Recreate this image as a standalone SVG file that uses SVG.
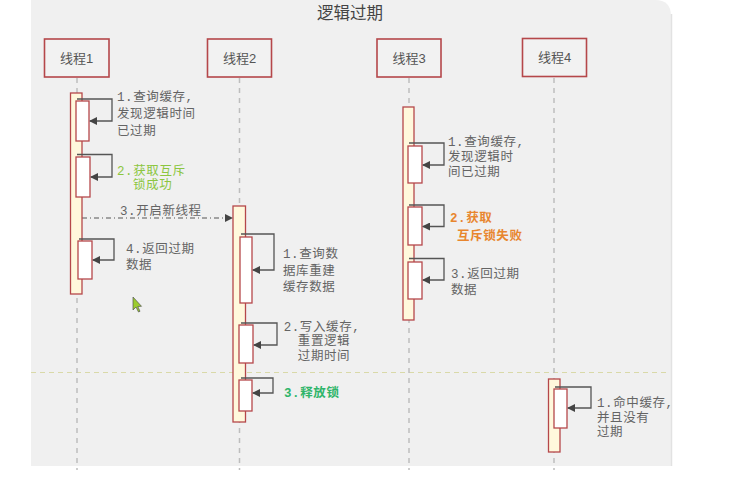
<svg xmlns="http://www.w3.org/2000/svg" width="740" height="478" viewBox="0 0 740 478">
<defs>
<style>
.hdr{fill:#f2f2f2;stroke:#b5474a;stroke-width:1.6}
.hdrt{font-family:"Liberation Sans","Noto Sans CJK SC",sans-serif;font-size:13px;fill:#555;text-anchor:middle}
.life{stroke:#bdbdbd;stroke-width:1.5;stroke-dasharray:5,5;fill:none}
.outer{fill:#fff8dc;stroke:#b5474a;stroke-width:1.3}
.inner{fill:#ffffff;stroke:#b5474a;stroke-width:1.3}
.loop{fill:none;stroke:#555;stroke-width:1.3}
.lbl{font-family:"Liberation Mono","Noto Sans CJK SC",monospace;font-size:12.5px;fill:#646464;letter-spacing:0.6px}
.green{fill:#8cc63f}
.dgreen{fill:#2fb56a;font-weight:bold}
.orange{fill:#e8862e;font-weight:bold}
</style>
<marker id="ah" markerWidth="8" markerHeight="8" refX="7" refY="4" orient="auto" markerUnits="userSpaceOnUse">
<path d="M0,0 L8,4 L0,8 Z" fill="#444"/>
</marker>
</defs>
<rect x="0" y="0" width="740" height="478" fill="#ffffff"/>
<path d="M31,0 H655 Q671,0 671,16 V466 H31 Z" fill="#f0f0f0"/>
<line x1="671.5" y1="14" x2="671.5" y2="466" stroke="#e2e2e2" stroke-width="1.5"/>
<text x="350" y="19" font-family="'Noto Sans CJK SC',sans-serif" font-size="16.5" fill="#444" text-anchor="middle">逻辑过期</text>
<line x1="31" y1="372.5" x2="670" y2="372.5" stroke="#d9d9a8" stroke-width="1" stroke-dasharray="5,4"/>

<g id="connectors">
<line class="life" x1="77" y1="78" x2="77" y2="470"/>
<line class="life" x1="239.5" y1="78" x2="239.5" y2="470"/>
<line class="life" x1="409" y1="78" x2="409" y2="470"/>
<line class="life" x1="554" y1="78" x2="554" y2="470"/>
<line x1="82" y1="218" x2="232" y2="218" stroke="#555" stroke-width="1.2" stroke-dasharray="5,3,1,3" marker-end="url(#ah)"/>
</g>

<g id="thread1">
<rect class="hdr" x="44.5" y="39" width="64.5" height="38"/>
<text class="hdrt" x="76.5" y="62.5">线程1</text>
<rect class="outer" x="70.5" y="93" width="11.5" height="201"/>
<rect class="inner" x="76" y="101" width="13" height="40"/>
<path class="loop" d="M77,99 H112 V121 H90" marker-end="url(#ah)"/>
<rect class="inner" x="76" y="157" width="14" height="40"/>
<path class="loop" d="M77,154.5 H112 V177 H91" marker-end="url(#ah)"/>
<rect class="inner" x="78" y="241" width="14" height="38"/>
<path class="loop" d="M79,239 H114 V260 H93" marker-end="url(#ah)"/>
<text class="lbl" x="117" y="100.5">1.查询缓存,</text>
<text class="lbl" x="117" y="117.5">发现逻辑时间</text>
<text class="lbl" x="117" y="135">已过期</text>
<text class="lbl green" x="117" y="174.5">2.获取互斥</text>
<text class="lbl green" x="133" y="188.5">锁成功</text>
<text class="lbl" x="120" y="215">3.开启新线程</text>
<text class="lbl" x="126" y="252.5">4.返回过期</text>
<text class="lbl" x="126" y="268.5">数据</text>
</g>

<g id="thread2">
<rect class="hdr" x="207.5" y="39" width="64" height="38"/>
<text class="hdrt" x="239.5" y="62.5">线程2</text>
<rect class="outer" x="233" y="206" width="12.5" height="216"/>
<rect class="inner" x="240" y="237" width="12" height="66"/>
<path class="loop" d="M241,234 H274 V270 H253" marker-end="url(#ah)"/>
<rect class="inner" x="239" y="325" width="14" height="38"/>
<path class="loop" d="M241,323 H277 V345 H254" marker-end="url(#ah)"/>
<rect class="inner" x="239" y="380" width="13" height="31"/>
<path class="loop" d="M241,378 H273 V393 H253" marker-end="url(#ah)"/>
<text class="lbl" x="283" y="257.5">1.查询数</text>
<text class="lbl" x="283" y="275">据库重建</text>
<text class="lbl" x="283" y="291">缓存数据</text>
<text class="lbl" x="322" y="330.5" text-anchor="middle">2.写入缓存,</text>
<text class="lbl" x="324" y="344.5" text-anchor="middle">重置逻辑</text>
<text class="lbl" x="324" y="359.5" text-anchor="middle">过期时间</text>
<text class="lbl dgreen" x="284" y="397">3.释放锁</text>
</g>

<g id="thread3">
<rect class="hdr" x="377" y="39" width="64" height="38"/>
<text class="hdrt" x="409" y="62.5">线程3</text>
<rect class="outer" x="403" y="107" width="11" height="213"/>
<rect class="inner" x="408" y="146" width="14" height="37"/>
<path class="loop" d="M409,143 H444 V165 H423" marker-end="url(#ah)"/>
<rect class="inner" x="408" y="207" width="14" height="38"/>
<path class="loop" d="M409,205 H444 V226.5 H423" marker-end="url(#ah)"/>
<rect class="inner" x="408" y="262" width="14" height="37"/>
<path class="loop" d="M409,258.5 H444 V280 H423" marker-end="url(#ah)"/>
<text class="lbl" x="448" y="146">1.查询缓存,</text>
<text class="lbl" x="448" y="161">发现逻辑时</text>
<text class="lbl" x="448" y="176">间已过期</text>
<text class="lbl orange" x="450" y="222">2.获取</text>
<text class="lbl orange" x="457" y="239.5">互斥锁失败</text>
<text class="lbl" x="451" y="278">3.返回过期</text>
<text class="lbl" x="451" y="293.5">数据</text>
</g>

<g id="thread4">
<rect class="hdr" x="522.5" y="38.5" width="64" height="38"/>
<text class="hdrt" x="554.5" y="62">线程4</text>
<rect class="outer" x="548.5" y="379" width="11.5" height="73"/>
<rect class="inner" x="554" y="389" width="13" height="39"/>
<path class="loop" d="M555,387 H591 V408 H568" marker-end="url(#ah)"/>
<text class="lbl" x="597" y="407">1.命中缓存,</text>
<text class="lbl" x="597" y="421.5">并且没有</text>
<text class="lbl" x="597" y="436">过期</text>
</g>

<path d="M133,297 L133,310 L136,307 L138.5,312 L140,311.3 L137.8,306.5 L141.5,306.3 Z" fill="#9ccc2e" stroke="#555" stroke-width="0.7"/>
</svg>
